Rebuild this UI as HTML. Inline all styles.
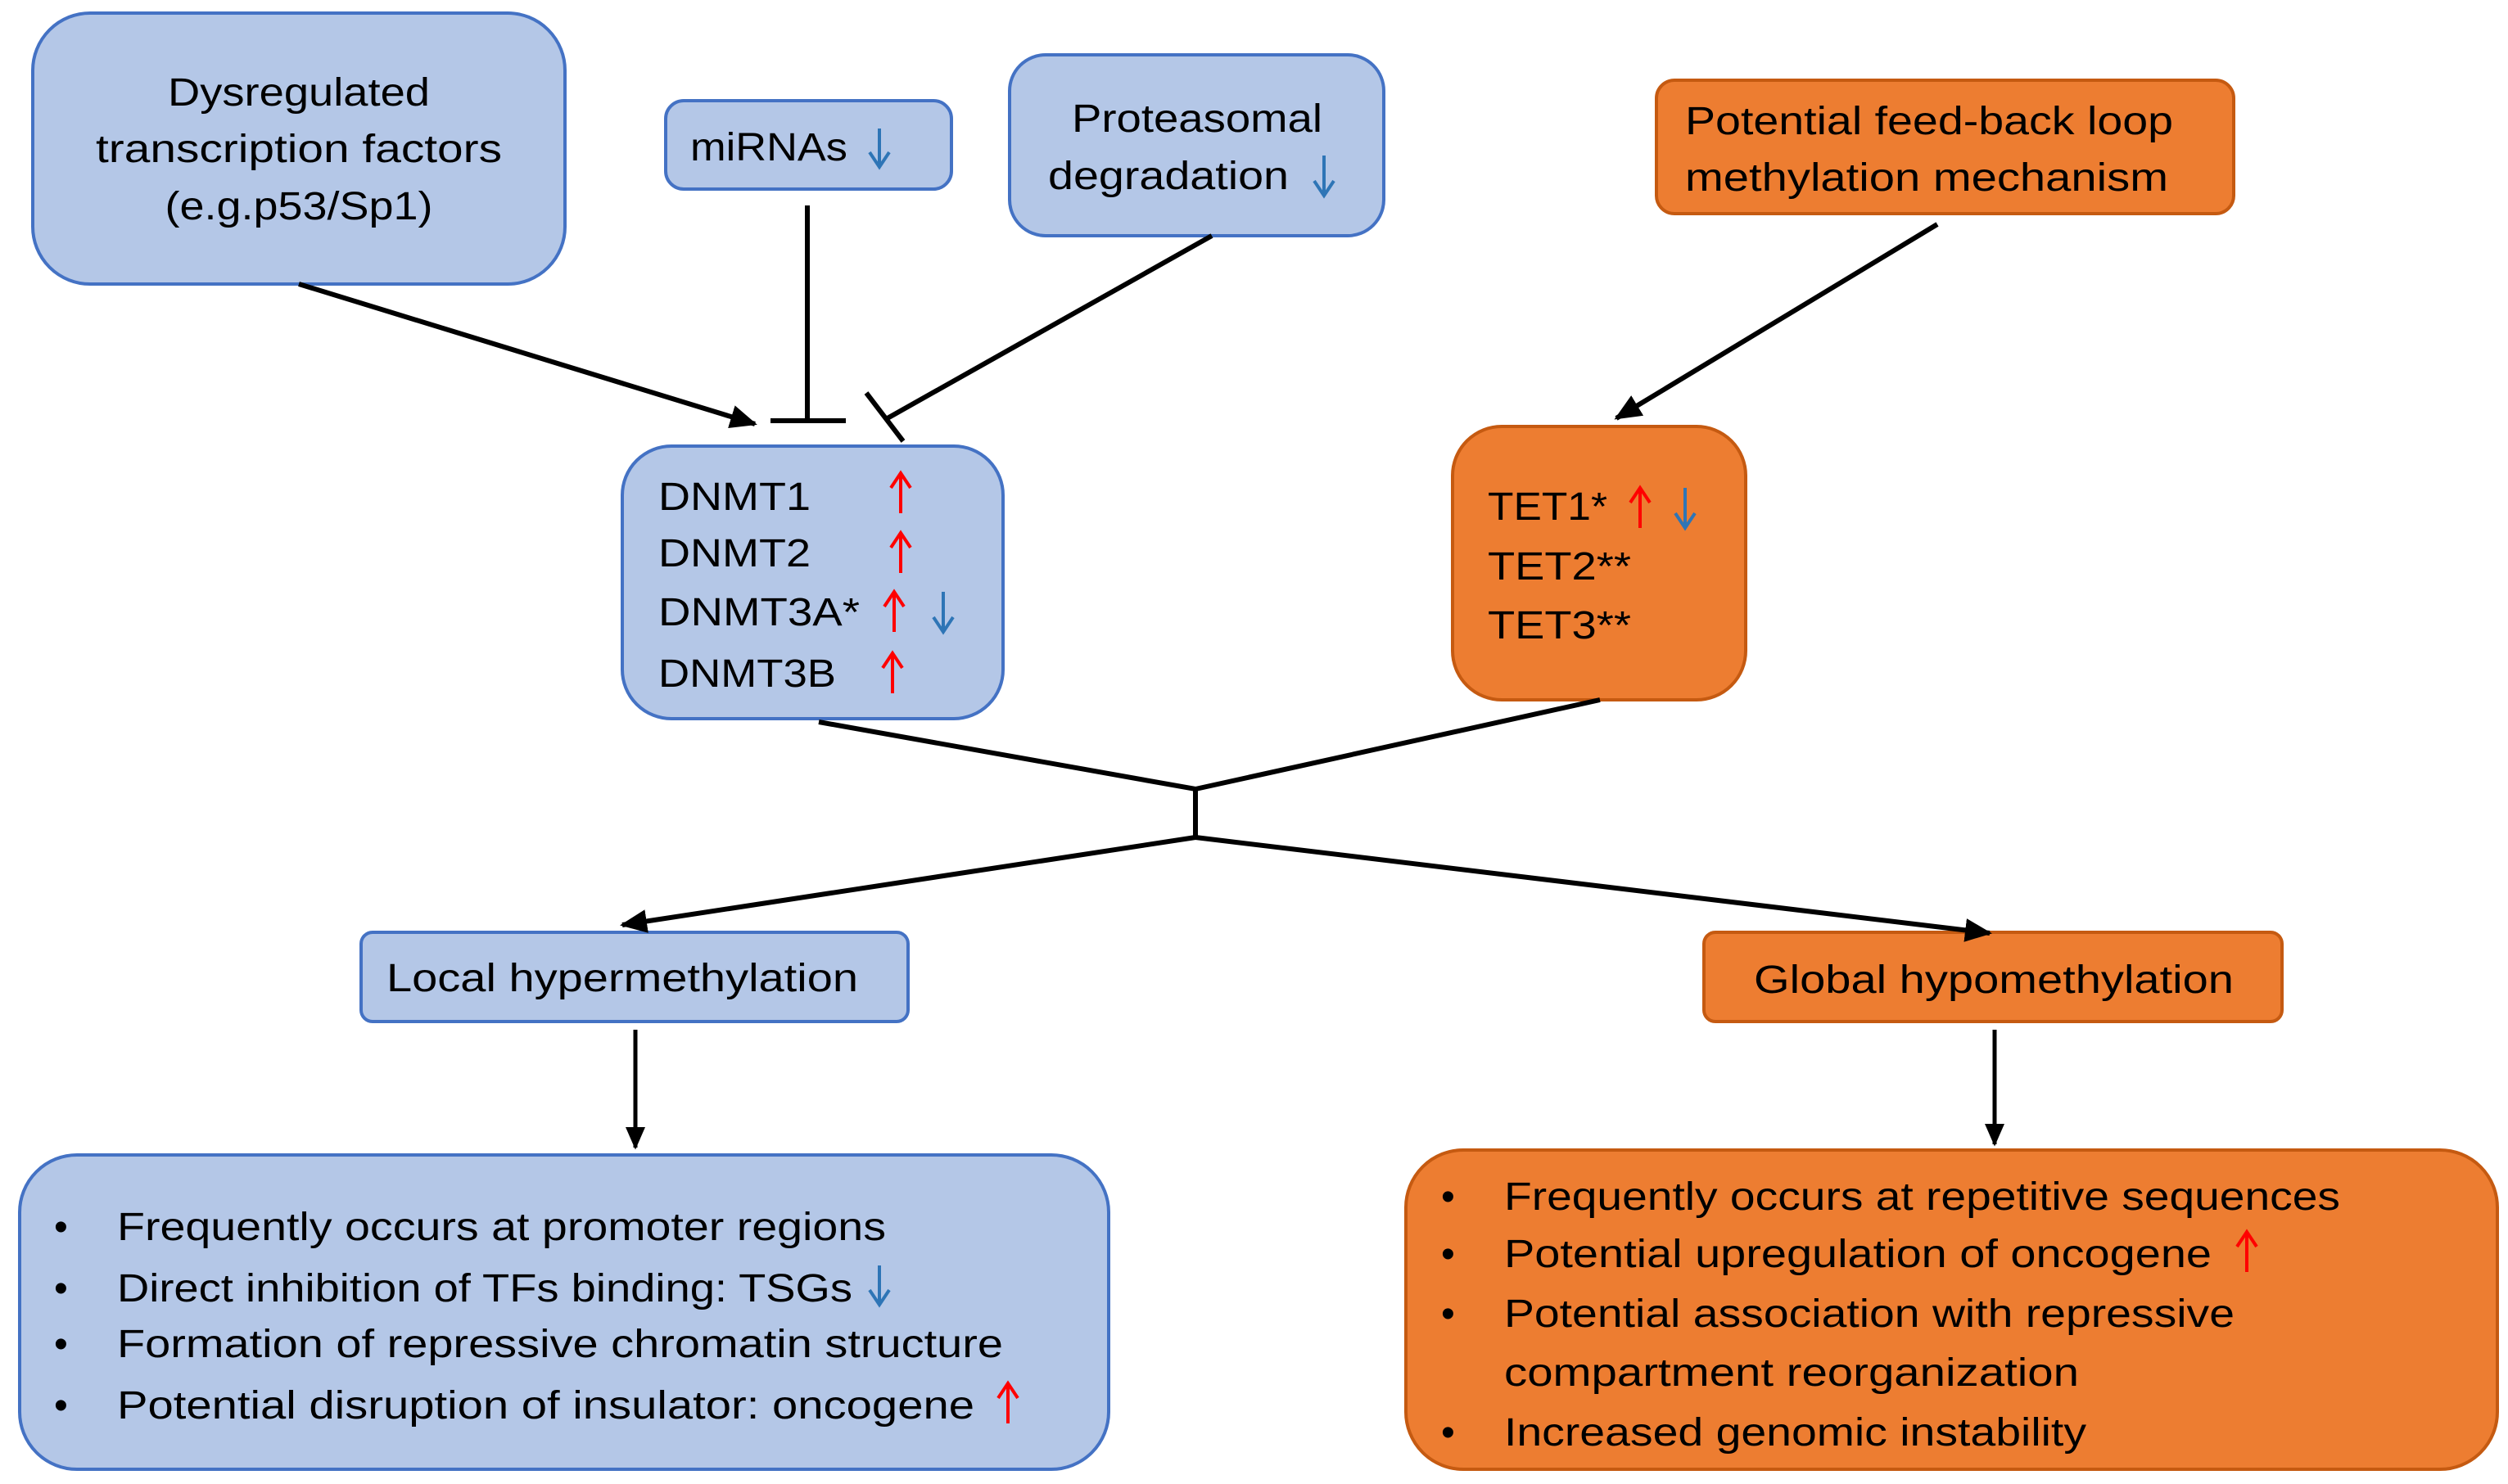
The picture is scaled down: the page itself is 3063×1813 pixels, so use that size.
<!DOCTYPE html>
<html><head><meta charset="utf-8"><style>html,body{margin:0;padding:0;background:#fff}svg{display:block}text{font-family:"Liberation Sans",sans-serif;font-size:48px;fill:#000}</style></head><body>
<svg width="3063" height="1813" viewBox="0 0 3063 1813" xmlns="http://www.w3.org/2000/svg">
<defs><marker id="a" markerWidth="6" markerHeight="6" refX="5" refY="3" orient="auto" markerUnits="strokeWidth"><path d="M0,0.6 L5.5,3 L0,5.4 Z" fill="#000"/></marker></defs>
<g stroke="#4472C4" stroke-width="4" fill="#B4C7E7">
<rect x="40" y="16" width="650" height="331" rx="70"/>
<rect x="813" y="123" width="349" height="108" rx="22"/>
<rect x="1233" y="67" width="457" height="221" rx="44"/>
<rect x="760" y="545" width="465" height="333" rx="60"/>
<rect x="441" y="1139" width="668" height="109" rx="14"/>
<rect x="24" y="1411" width="1330" height="384" rx="70"/>
</g>
<g stroke="#C55A11" stroke-width="4" fill="#ED7D31">
<rect x="2023" y="98" width="705" height="163" rx="22"/>
<rect x="1774" y="521" width="358" height="334" rx="60"/>
<rect x="2081" y="1139" width="706" height="109" rx="14"/>
<rect x="1717" y="1405" width="1333" height="390" rx="70"/>
</g>
<g stroke="#000" stroke-width="6" fill="none">
<line x1="365" y1="347" x2="922" y2="518" marker-end="url(#a)"/>
<line x1="986" y1="251" x2="986" y2="514"/><line x1="941" y1="514" x2="1033" y2="514"/>
<line x1="1480" y1="288" x2="1082" y2="512"/><line x1="1058" y1="480" x2="1103" y2="539"/>
<line x1="2366" y1="274" x2="1974" y2="511" marker-end="url(#a)"/>
<polyline points="1000,882 1460,964 1954,855"/>
<line x1="1460" y1="964" x2="1460" y2="1023"/>
<line x1="1460" y1="1023" x2="760" y2="1130" marker-end="url(#a)"/>
<line x1="1460" y1="1023" x2="2430" y2="1140" marker-end="url(#a)"/>
<line x1="776" y1="1258" x2="776" y2="1402" stroke-width="5" marker-end="url(#a)"/>
<line x1="2436" y1="1258" x2="2436" y2="1398" stroke-width="5" marker-end="url(#a)"/>
</g>
<!-- up arrows (red) -->
<g stroke="#FF0000" stroke-width="4" fill="none">
<path d="M1100,578 V627 M1088,596 L1100,578 L1112,596"/>
<path d="M1100,651 V700 M1088,669 L1100,651 L1112,669"/>
<path d="M1092,723 V772 M1080,741 L1092,723 L1104,741"/>
<path d="M1090,798 V847 M1078,816 L1090,798 L1102,816"/>
<path d="M2003,596 V645 M1991,614 L2003,596 L2015,614"/>
<path d="M1231,1690 V1739 M1219,1708 L1231,1690 L1243,1708"/>
<path d="M2744,1505 V1554 M2732,1523 L2744,1505 L2756,1523"/>
</g>
<!-- down arrows (blue) -->
<g stroke="#2E75B6" stroke-width="4" fill="none">
<path d="M1074,157 V204 M1062,186 L1074,204 L1086,186"/>
<path d="M1617,190 V239 M1605,221 L1617,239 L1629,221"/>
<path d="M1152,723 V772 M1140,754 L1152,772 L1164,754"/>
<path d="M2058,596 V645 M2046,627 L2058,645 L2070,627"/>
<path d="M1074,1546 V1594 M1062,1576 L1074,1594 L1086,1576"/>
</g>
<g text-anchor="middle">
<text x="365" y="129" textLength="320" lengthAdjust="spacingAndGlyphs">Dysregulated</text>
<text x="365" y="198" textLength="496" lengthAdjust="spacingAndGlyphs">transcription factors</text>
<text x="365" y="268" textLength="327" lengthAdjust="spacingAndGlyphs">(e.g.p53/Sp1)</text>
</g>
<text x="843" y="196" textLength="192" lengthAdjust="spacingAndGlyphs">miRNAs</text>
<text x="1309" y="161" textLength="306" lengthAdjust="spacingAndGlyphs">Proteasomal</text>
<text x="1280" y="231" textLength="294" lengthAdjust="spacingAndGlyphs">degradation</text>
<text x="2058" y="164" textLength="596" lengthAdjust="spacingAndGlyphs">Potential feed-back loop</text>
<text x="2058" y="233" textLength="590" lengthAdjust="spacingAndGlyphs">methylation mechanism</text>
<text x="804" y="623" textLength="186" lengthAdjust="spacingAndGlyphs">DNMT1</text>
<text x="804" y="692" textLength="186" lengthAdjust="spacingAndGlyphs">DNMT2</text>
<text x="804" y="764" textLength="246" lengthAdjust="spacingAndGlyphs">DNMT3A*</text>
<text x="804" y="839" textLength="217" lengthAdjust="spacingAndGlyphs">DNMT3B</text>
<text x="1817" y="635" textLength="146" lengthAdjust="spacingAndGlyphs">TET1*</text>
<text x="1817" y="708" textLength="175" lengthAdjust="spacingAndGlyphs">TET2**</text>
<text x="1817" y="780" textLength="175" lengthAdjust="spacingAndGlyphs">TET3**</text>
<text x="472" y="1211" textLength="576" lengthAdjust="spacingAndGlyphs">Local hypermethylation</text>
<text x="2142" y="1213" textLength="586" lengthAdjust="spacingAndGlyphs">Global hypomethylation</text>
<g>
<text x="66" y="1515">•</text><text x="143" y="1515" textLength="939" lengthAdjust="spacingAndGlyphs">Frequently occurs at promoter regions</text>
<text x="66" y="1590">•</text><text x="143" y="1590" textLength="898" lengthAdjust="spacingAndGlyphs">Direct inhibition of TFs binding: TSGs</text>
<text x="66" y="1658">•</text><text x="143" y="1658" textLength="1082" lengthAdjust="spacingAndGlyphs">Formation of repressive chromatin structure</text>
<text x="66" y="1733">•</text><text x="143" y="1733" textLength="1047" lengthAdjust="spacingAndGlyphs">Potential disruption of insulator: oncogene</text>
<text x="1760" y="1478">•</text><text x="1837" y="1478" textLength="1021" lengthAdjust="spacingAndGlyphs">Frequently occurs at repetitive sequences</text>
<text x="1760" y="1548">•</text><text x="1837" y="1548" textLength="864" lengthAdjust="spacingAndGlyphs">Potential upregulation of oncogene</text>
<text x="1760" y="1621">•</text><text x="1837" y="1621" textLength="892" lengthAdjust="spacingAndGlyphs">Potential association with repressive</text>
<text x="1837" y="1693" textLength="702" lengthAdjust="spacingAndGlyphs">compartment reorganization</text>
<text x="1760" y="1766">•</text><text x="1837" y="1766" textLength="711" lengthAdjust="spacingAndGlyphs">Increased genomic instability</text>
</g>
</svg>
</body></html>
